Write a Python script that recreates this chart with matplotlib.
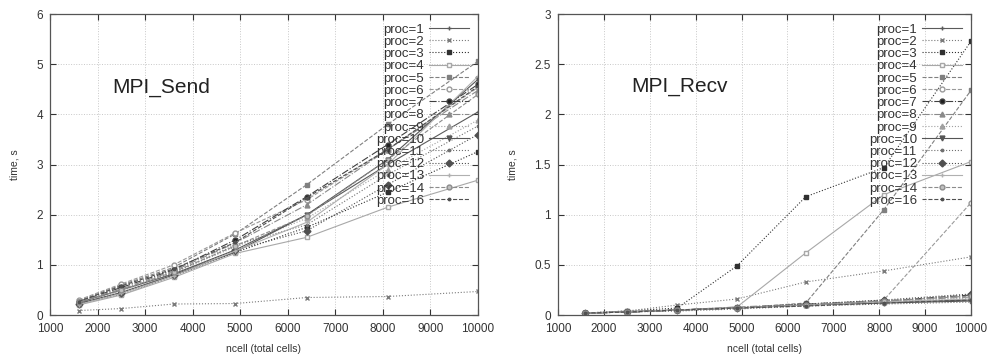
import matplotlib
matplotlib.use("Agg")
import matplotlib.pyplot as plt

plt.rcParams['font.family'] = ['Liberation Sans', 'DejaVu Sans']

# data
ncell = [1600, 2500, 3600, 4900, 6400, 8100, 10000]
procs = [1, 2, 3, 4, 5, 6, 7, 8, 9, 10, 11, 12, 13, 14, 16]

send_times = {
    1:  [0.25, 0.50, 0.82, 1.30, 2.00, 3.00, 4.05],
    2:  [0.09, 0.13, 0.22, 0.23, 0.35, 0.37, 0.47],
    3:  [0.22, 0.42, 0.78, 1.25, 1.75, 2.45, 3.26],
    4:  [0.20, 0.40, 0.75, 1.23, 1.55, 2.15, 2.69],
    5:  [0.28, 0.60, 0.95, 1.62, 2.60, 3.80, 5.06],
    6:  [0.30, 0.62, 1.00, 1.64, 2.30, 3.30, 4.54],
    7:  [0.27, 0.55, 0.90, 1.50, 2.36, 3.40, 4.60],
    8:  [0.26, 0.52, 0.88, 1.44, 2.20, 3.30, 4.48],
    9:  [0.24, 0.48, 0.85, 1.36, 1.93, 2.90, 3.89],
    10: [0.23, 0.45, 0.80, 1.26, 2.00, 3.10, 4.70],
    11: [0.25, 0.50, 0.84, 1.40, 1.80, 2.80, 3.77],
    12: [0.22, 0.44, 0.80, 1.30, 1.68, 2.60, 3.60],
    13: [0.21, 0.43, 0.78, 1.28, 1.85, 3.00, 4.76],
    14: [0.26, 0.50, 0.86, 1.38, 1.98, 3.10, 4.40],
    16: [0.27, 0.58, 0.92, 1.45, 2.34, 3.30, 4.56],
}

recv_times = {
    1:  [0.02, 0.03, 0.05, 0.07, 0.10, 0.13, 0.15],
    2:  [0.02, 0.04, 0.10, 0.16, 0.33, 0.44, 0.58],
    3:  [0.02, 0.04, 0.07, 0.49, 1.18, 1.47, 2.73],
    4:  [0.02, 0.04, 0.05, 0.08, 0.62, 1.20, 1.53],
    5:  [0.02, 0.03, 0.05, 0.07, 0.12, 1.05, 2.24],
    6:  [0.02, 0.03, 0.05, 0.07, 0.10, 0.15, 1.12],
    7:  [0.02, 0.03, 0.05, 0.07, 0.11, 0.14, 0.20],
    8:  [0.02, 0.03, 0.05, 0.08, 0.11, 0.14, 0.18],
    9:  [0.02, 0.03, 0.05, 0.07, 0.10, 0.13, 0.17],
    10: [0.02, 0.03, 0.05, 0.07, 0.10, 0.12, 0.14],
    11: [0.02, 0.03, 0.04, 0.06, 0.09, 0.11, 0.13],
    12: [0.02, 0.03, 0.05, 0.07, 0.11, 0.15, 0.21],
    13: [0.02, 0.03, 0.05, 0.07, 0.10, 0.13, 0.16],
    14: [0.02, 0.03, 0.05, 0.07, 0.10, 0.14, 0.19],
    16: [0.02, 0.03, 0.05, 0.07, 0.09, 0.12, 0.15],
}

# gnuplot-ish monochrome styles: (linestyle, marker, color, markerfacecolor)
styles = {
    1:  ('-',  '+', '#5a5a5a', '#5a5a5a'),
    2:  (':',  'x', '#7a7a7a', '#7a7a7a'),
    3:  (':',  's', '#303030', '#303030'),
    4:  ('-',  's', '#a8a8a8', 'white'),
    5:  ('--', 's', '#808080', '#808080'),
    6:  ('--', 'o', '#9a9a9a', 'white'),
    7:  ('-.', 'o', '#404040', '#202020'),
    8:  ('-.', '^', '#8a8a8a', '#8a8a8a'),
    9:  (':',  '^', '#a0a0a0', '#a0a0a0'),
    10: ('-',  'v', '#555555', '#555555'),
    11: (':',  '.', '#707070', '#707070'),
    12: (':',  'D', '#505050', '#505050'),
    13: ('-',  '+', '#b0b0b0', '#b0b0b0'),
    14: ('--', 'o', '#8c8c8c', '#c0c0c0'),
    16: ('--', '.', '#505050', '#505050'),
}

fig = plt.figure(figsize=(9.9, 3.54), dpi=100)
ax1 = fig.add_axes([0.0505, 0.110, 0.4323, 0.850])
ax2 = fig.add_axes([0.5636, 0.110, 0.4172, 0.850])


def draw(ax, data, ymax, yticks, title, tx, ty):
    for p in procs:
        ls, mk, col, mfc = styles[p]
        ax.plot(ncell, data[p], linestyle=ls, marker=mk, color=col,
                markerfacecolor=mfc, markeredgecolor=col, markersize=3.5,
                linewidth=0.8, label=f"proc={p}")
    ax.set_xlim(1000, 10000)
    ax.set_ylim(0, ymax)
    ax.set_xticks(range(1000, 10001, 1000))
    ax.set_yticks(yticks)
    ax.set_yticklabels([f"{t:g}" for t in yticks])
    ax.grid(True, linestyle=':', color='#c8c8c8', linewidth=0.7)
    ax.tick_params(direction='in', top=True, right=True, length=4,
                   labelsize=8.5, colors='#333333')
    ax.tick_params(axis='x', pad=6)
    ax.tick_params(axis='y', pad=5)
    for s in ax.spines.values():
        s.set_color('#555555')
        s.set_linewidth(0.9)
    ax.set_xlabel("ncell (total cells)", fontsize=7.5, color='#333333', labelpad=6)
    ax.set_ylabel("time, s", fontsize=7.5, color='#333333', labelpad=12)
    ax.text(tx, ty, title, fontsize=15, color='#222222', va='center', ha='left')
    leg = ax.legend(loc='upper right', frameon=False, markerfirst=False,
                    fontsize=9.5, labelspacing=0.0, handlelength=3.0,
                    handletextpad=0.4, borderaxespad=0.5, borderpad=0.2)
    for t in leg.get_texts():
        t.set_color('#333333')


draw(ax1, send_times, 6, [0, 1, 2, 3, 4, 5, 6], "MPI_Send", 2300, 4.54)
draw(ax2, recv_times, 3, [0, 0.5, 1, 1.5, 2, 2.5, 3], "MPI_Recv", 2590, 2.28)

fig.savefig("out.png", dpi=100)
